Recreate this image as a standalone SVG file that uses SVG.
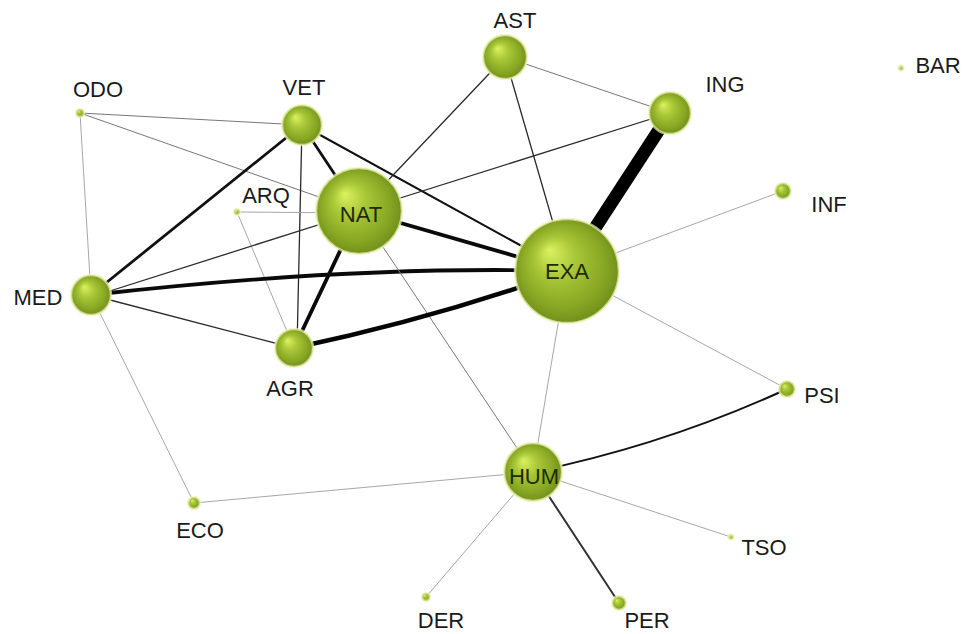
<svg xmlns="http://www.w3.org/2000/svg" width="962" height="634" viewBox="0 0 962 634">
<defs>
<radialGradient id="ball" cx="0.5" cy="0.5" r="0.55" fx="0.33" fy="0.3">
<stop offset="0" stop-color="#dcf260"/>
<stop offset="0.35" stop-color="#a9c737"/>
<stop offset="0.75" stop-color="#86a523"/>
<stop offset="1" stop-color="#6a8818"/>
</radialGradient>
<style>
.n{fill:url(#ball);stroke:#eef4b8;stroke-width:2.5;stroke-opacity:0.7}
.l{font-family:"Liberation Sans",Arial,sans-serif;font-size:22px;fill:#1a1a1a;text-anchor:middle}
.in{fill:#1c2a06}
.e{fill:none;stroke-linecap:round}
.g{stroke:#a6a6ae;stroke-width:1}
.gd{stroke:#777;stroke-width:1}
.d{stroke:#2a2a2a;stroke-width:1.3}
.b2{stroke:#111;stroke-width:2}
.b3{stroke:#111;stroke-width:2.8}
.b4{stroke:#0a0a0a;stroke-width:3.8}
.b5{stroke:#050505;stroke-width:4.5}
</style>
</defs>
<rect width="962" height="634" fill="#ffffff"/>
<g id="edges">
<line class="e gd" x1="80" y1="113" x2="302" y2="125"/>
<line class="e gd" x1="80" y1="113" x2="359" y2="211"/>
<line class="e g" x1="80" y1="113" x2="91" y2="295"/>
<line class="e b3" x1="91" y1="295" x2="302" y2="125"/>
<line class="e b3" x1="302" y1="125" x2="359" y2="211"/>
<line class="e d" x1="302" y1="125" x2="297" y2="348"/>
<line class="e b2" x1="302" y1="125" x2="567" y2="271"/>
<line class="e g" x1="237" y1="212" x2="359" y2="213"/>
<line class="e g" x1="237" y1="212" x2="294" y2="348"/>
<line class="e d" x1="91" y1="297" x2="359" y2="212"/>
<path class="e b4" d="M91,295 Q355,265 567,271"/>
<line class="e d" x1="91" y1="295" x2="294" y2="348"/>
<line class="e g" x1="91" y1="295" x2="194" y2="503"/>
<line class="e b4" x1="359" y1="211" x2="294" y2="348"/>
<line class="e b4" x1="359" y1="211" x2="567" y2="271"/>
<line class="e d" x1="359" y1="211" x2="505" y2="57"/>
<line class="e d" x1="359" y1="211" x2="670" y2="113"/>
<line class="e gd" x1="359" y1="211" x2="533" y2="472"/>
<line class="e gd" x1="505" y1="57" x2="670" y2="113"/>
<line class="e d" x1="505" y1="57" x2="567" y2="271"/>
<line class="e" stroke="#000" stroke-width="13" x1="670" y1="113" x2="567" y2="271"/>
<line class="e g" x1="567" y1="271" x2="783" y2="191"/>
<line class="e g" x1="567" y1="271" x2="787" y2="389"/>
<line class="e g" x1="567" y1="271" x2="533" y2="472"/>
<path class="e b5" d="M294,348 Q433,319 567,271"/>
<path class="e b2" d="M533,472 Q665,445 787,389"/>
<line class="e g" x1="533" y1="472" x2="194" y2="503"/>
<line class="e g" x1="533" y1="472" x2="731" y2="537"/>
<line class="e g" x1="533" y1="472" x2="426" y2="597"/>
<line class="e" stroke="#333" stroke-width="2" x1="533" y1="472" x2="619" y2="603"/>
</g>
<g id="AST"><circle class="n" cx="505" cy="57" r="22"/><text class="l" x="515" y="28">AST</text></g>
<g id="ING"><circle class="n" cx="670" cy="113" r="21"/><text class="l" x="725" y="92">ING</text></g>
<g id="BAR"><circle class="n" cx="901" cy="68" r="2.5" stroke-width="1"/><text class="l" x="938" y="73">BAR</text></g>
<g id="ODO"><circle class="n" cx="80" cy="113" r="4" stroke-width="1.5"/><text class="l" x="98" y="97">ODO</text></g>
<g id="VET"><circle class="n" cx="302" cy="125" r="20"/><text class="l" x="304" y="95">VET</text></g>
<g id="ARQ"><circle class="n" cx="237" cy="212" r="3" stroke-width="1.5"/><text class="l" x="266" y="203">ARQ</text></g>
<g id="NAT"><circle class="n" cx="359" cy="211" r="43"/><text class="l in" x="361" y="222">NAT</text></g>
<g id="INF"><circle class="n" cx="783" cy="191" r="8"/><text class="l" x="829" y="212">INF</text></g>
<g id="EXA"><circle class="n" cx="567" cy="271" r="52"/><text class="l in" x="567" y="279">EXA</text></g>
<g id="MED"><circle class="n" cx="91" cy="295" r="20"/><text class="l" x="38" y="305">MED</text></g>
<g id="AGR"><circle class="n" cx="294" cy="348" r="19"/><text class="l" x="290" y="396">AGR</text></g>
<g id="PSI"><circle class="n" cx="787" cy="389" r="8"/><text class="l" x="822" y="403">PSI</text></g>
<g id="HUM"><circle class="n" cx="533" cy="472" r="29"/><text class="l in" x="534" y="484">HUM</text></g>
<g id="ECO"><circle class="n" cx="194" cy="503" r="6"/><text class="l" x="200" y="538">ECO</text></g>
<g id="TSO"><circle class="n" cx="731" cy="537" r="2.5" stroke-width="1"/><text class="l" x="764" y="555">TSO</text></g>
<g id="DER"><circle class="n" cx="426" cy="597" r="4" stroke-width="1.5"/><text class="l" x="441" y="628">DER</text></g>
<g id="PER"><circle class="n" cx="619" cy="603" r="7"/><text class="l" x="647" y="628">PER</text></g>
</svg>
